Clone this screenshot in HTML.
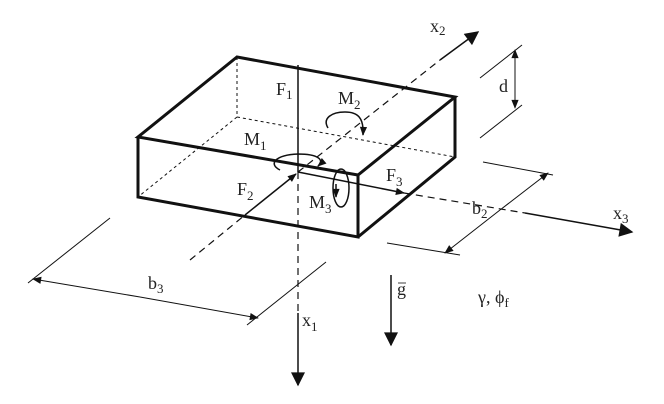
<!DOCTYPE html>
<html><head><style>body{margin:0;background:#fff}svg{display:block}text{font-family:"Liberation Serif",serif;fill:#222}</style></head>
<body>
<svg width="664" height="404" viewBox="0 0 664 404" xmlns="http://www.w3.org/2000/svg">
<defs>
<marker id="a" viewBox="0 0 10 10" refX="9" refY="5" markerWidth="12" markerHeight="9" markerUnits="userSpaceOnUse" orient="auto"><path d="M0,1 L10,5 L0,9 z" fill="#111"/></marker>
<marker id="b" viewBox="0 0 10 10" refX="9" refY="5" markerWidth="16" markerHeight="14" markerUnits="userSpaceOnUse" orient="auto"><path d="M0,0 L10,5 L0,10 z" fill="#111"/></marker>
</defs>
<g stroke="#111" fill="none">
<g stroke-width="1" stroke-dasharray="3,3">
<line x1="237" y1="57" x2="237" y2="117"/>
<line x1="237" y1="117" x2="455" y2="157"/>
<line x1="237" y1="117" x2="138" y2="197"/>
</g>
<g stroke-width="3" stroke-linejoin="miter">
<polygon points="237,57 455,97 358,175 138,137"/>
<polyline points="138,137 138,197 358,237 358,175"/>
<polyline points="455,97 455,157 358,237"/>
</g>
<line x1="298" y1="65" x2="298" y2="172" stroke-width="1.5"/>
<line x1="298" y1="172" x2="298" y2="312" stroke-width="1.2" stroke-dasharray="7,5"/>
<line x1="298" y1="313" x2="298" y2="385" stroke-width="1.5" marker-end="url(#b)"/>
<line x1="190" y1="260" x2="245" y2="215" stroke-width="1.2" stroke-dasharray="7,5"/>
<line x1="245" y1="215" x2="296" y2="174" stroke-width="1.5" marker-end="url(#a)"/>
<line x1="298" y1="172" x2="440" y2="60" stroke-width="1.2" stroke-dasharray="7,5"/>
<line x1="440" y1="60" x2="478" y2="32" stroke-width="1.5" marker-end="url(#b)"/>
<line x1="298" y1="172" x2="404" y2="193" stroke-width="1.5" marker-end="url(#a)"/>
<line x1="404" y1="193" x2="525" y2="213" stroke-width="1.2" stroke-dasharray="7,5"/>
<line x1="525" y1="213" x2="632" y2="232" stroke-width="1.5" marker-end="url(#b)"/>
<path d="M280,170 C268,164 275,155 298,154 C318,154 325,160 318,166" stroke-width="1.5" marker-end="url(#a)"/>
<path d="M328,128 C322,118 332,112 345,112 C358,112 364,118 363,135" stroke-width="1.5" marker-end="url(#a)"/>
<ellipse cx="341" cy="188" rx="8" ry="19" stroke-width="1.5"/>
<line x1="336" y1="184" x2="336" y2="197" stroke-width="1.5" marker-end="url(#a)"/>
<g stroke-width="1">
<line x1="480" y1="78" x2="522" y2="45"/>
<line x1="480" y1="138" x2="522" y2="105"/>
<line x1="515" y1="60" x2="515" y2="50" marker-end="url(#a)"/>
<line x1="515" y1="60" x2="515" y2="108" marker-end="url(#a)"/>
<line x1="483" y1="162" x2="553" y2="175"/>
<line x1="387" y1="243" x2="460" y2="255"/>
<line x1="500" y1="210" x2="548" y2="173" marker-end="url(#a)"/>
<line x1="500" y1="210" x2="445" y2="253" marker-end="url(#a)"/>
<line x1="28" y1="283" x2="110" y2="218"/>
<line x1="247" y1="325" x2="326" y2="262"/>
<line x1="140" y1="297" x2="33" y2="279" marker-end="url(#a)"/>
<line x1="140" y1="297" x2="258" y2="318" marker-end="url(#a)"/>
</g>
<line x1="391" y1="275" x2="391" y2="345" stroke-width="1.5" marker-end="url(#b)"/>
<line x1="398" y1="283" x2="406" y2="283" stroke-width="0.8"/>
</g>
<g font-size="18">
<text x="276" y="95">F<tspan font-size="13" dy="4">1</tspan></text>
<text x="338" y="104">M<tspan font-size="13" dy="5">2</tspan></text>
<text x="244" y="145">M<tspan font-size="13" dy="5">1</tspan></text>
<text x="237" y="195">F<tspan font-size="13" dy="5">2</tspan></text>
<text x="309" y="208">M<tspan font-size="13" dy="5">3</tspan></text>
<text x="386" y="181">F<tspan font-size="13" dy="5">3</tspan></text>
<text x="430" y="32">x<tspan font-size="13" dy="3">2</tspan></text>
<text x="499" y="92">d</text>
<text x="472" y="214">b<tspan font-size="13" dy="4">2</tspan></text>
<text x="613" y="219">x<tspan font-size="13" dy="4">3</tspan></text>
<text x="148" y="289">b<tspan font-size="13" dy="4">3</tspan></text>
<text x="302" y="326">x<tspan font-size="13" dy="5">1</tspan></text>
<text x="397" y="295">g</text>
<text x="478" y="303">γ, ϕ<tspan font-size="13" dy="4">f</tspan></text>
</g>
</svg>
</body></html>
